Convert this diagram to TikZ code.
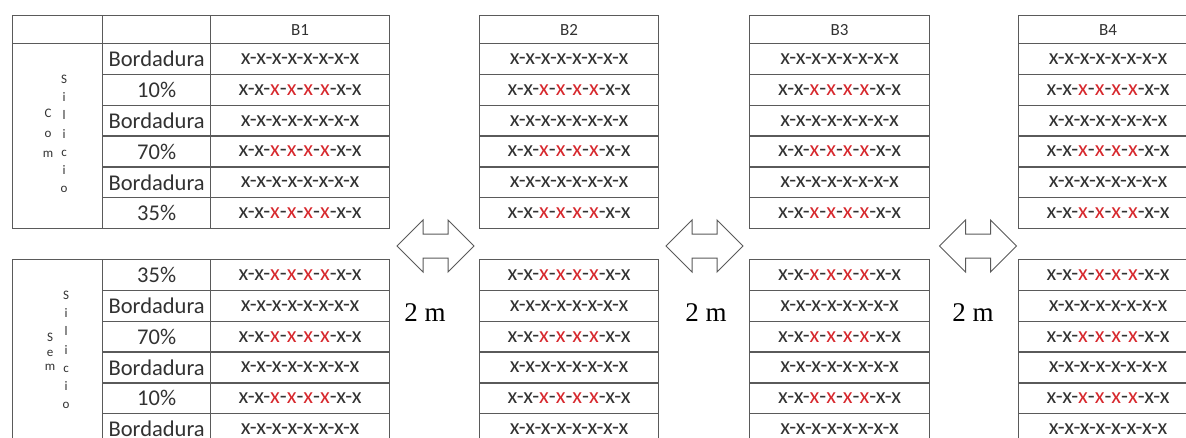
\documentclass[tikz,border=0pt]{standalone}
\usepackage{fontspec}
\setmainfont{Carlito}
\newfontfamily\seriffont{Liberation Serif}
\definecolor{linec}{RGB}{90,90,90}
\definecolor{txtc}{RGB}{50,50,50}
\definecolor{xred}{RGB}{215,40,45}
\newcommand{\plainx}{x-x-x-x-x-x-x-x}
\newcommand{\redx}{x-x-\textcolor{xred}{x}-\textcolor{xred}{x}-\textcolor{xred}{x}-\textcolor{xred}{x}-x-x}
\tikzset{
  cell/.style={draw=linec, line width=1.3pt, anchor=north west, inner sep=0pt,
    text=txtc, font=\fontsize{22.5}{24}\selectfont, minimum height=30.83pt},
  hdr/.style={cell, minimum height=28pt, font=\fontsize{17}{19}\selectfont},
  vlab/.style={text=txtc, align=center, inner sep=0pt},
  darrow/.style={draw=linec, line width=1pt, fill=white},
  dist/.style={font=\seriffont\fontsize{27}{29}\selectfont, text=black, inner sep=0pt}
}
\begin{document}
\begin{tikzpicture}[x=1pt,y=-1pt]
\path[use as bounding box] (0,0) rectangle (1186,437);
\clip (0,0) rectangle (1186,437);
\fill[white] (0,0) rectangle (1186,437);
% ---- label columns, top table
\node[hdr, minimum width=90pt] (th0) at (12,15) {};
\node[hdr, minimum width=108pt] (thl) at (102,15) {};
\node[cell, minimum width=90pt, minimum height=185pt] (tleft) at (12,43) {};
\foreach \l [count=\i] in {Bordadura,10\%,Bordadura,70\%,Bordadura,35\%} {
  \pgfmathsetmacro\yt{43+(\i-1)*30.83}
  \node[cell, minimum width=108pt] (tl\i) at (102,\yt) {\l};
}
\node[vlab, font=\fontsize{13}{20}\selectfont] (com) at (48,133) {C\\o\\m};
\node[vlab, font=\fontsize{13}{18.2}\selectfont] (sil1) at (64,134) {S\\i\\l\\i\\c\\i\\o};
% ---- label columns, bottom table
\node[cell, minimum width=90pt, minimum height=200pt] (bleft) at (12,259) {};
\foreach \l [count=\i] in {35\%,Bordadura,70\%,Bordadura,10\%,Bordadura} {
  \pgfmathsetmacro\yt{259+(\i-1)*30.8}
  \node[cell, minimum width=108pt] (bl\i) at (102,\yt) {\l};
}
\node[vlab, font=\fontsize{13}{14.5}\selectfont] (sem) at (50,352) {S\\e\\m};
\node[vlab, font=\fontsize{13}{18.2}\selectfont] (sil2) at (66,350) {S\\i\\l\\i\\c\\i\\o};
% ---- data blocks
\foreach \b/\x/\w in {1/210/179,2/479/179,3/749/180,4/1018/179} {
  \node[hdr, minimum width=\w pt] (h\b) at (\x,15) {B\b};
  \foreach \i in {1,...,6} {
    \pgfmathsetmacro\yt{43+(\i-1)*30.83}
    \ifodd\i
      \node[cell, minimum width=\w pt] (t\b-\i) at (\x,\yt) {\plainx};
    \else
      \node[cell, minimum width=\w pt] (t\b-\i) at (\x,\yt) {\redx};
    \fi
    \pgfmathsetmacro\yb{259+(\i-1)*30.8}
    \ifodd\i
      \node[cell, minimum width=\w pt] (b\b-\i) at (\x,\yb) {\redx};
    \else
      \node[cell, minimum width=\w pt] (b\b-\i) at (\x,\yb) {\plainx};
    \fi
  }
}
% ---- double arrows and distances
\foreach \n/\cx/\tx in {1/435.5/425,2/704.5/706,3/978/973} {
  \coordinate (a\n) at (\cx,246);
  \draw[darrow, shift={(a\n)}] (-38.5,0) -- (-12.5,-26) -- (-12.5,-12) -- (12.5,-12)
    -- (12.5,-26) -- (38.5,0) -- (12.5,26) -- (12.5,12) -- (-12.5,12) -- (-12.5,26) -- cycle;
  \node[dist] (d\n) at (\tx,313) {2 m};
}
\end{tikzpicture}
\end{document}
